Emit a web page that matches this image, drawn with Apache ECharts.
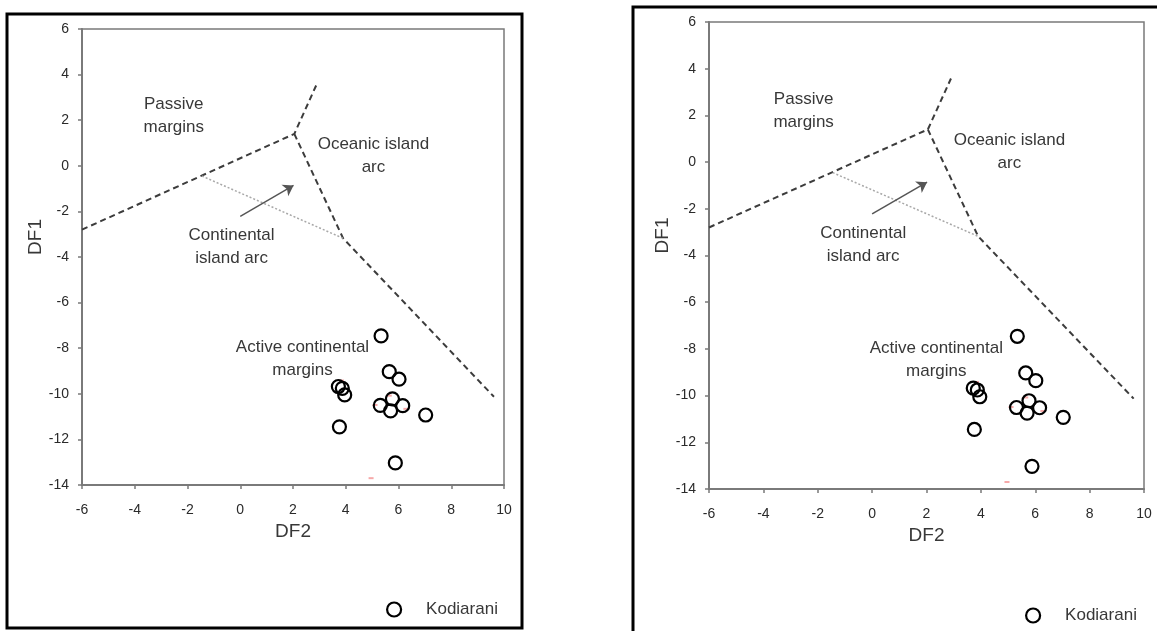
<!DOCTYPE html>
<html>
<head>
<meta charset="utf-8">
<script src="https://cdn.jsdelivr.net/npm/echarts@6/dist/echarts.min.js"></script>
<style>
html,body{margin:0;padding:0;background:#fff;}
#chart{width:1157px;height:631px;}
</style>
</head>
<body>
<div id="chart"></div>
<script>
// ---- data ----
const seriesName = 'Kodiarani';
const df2 = [5.34, 5.65, 6.02, 3.72, 3.87, 3.96, 5.31, 5.77, 5.70, 6.16, 7.03, 3.76, 5.88];
const df1 = [-7.46, -9.03, -9.36, -9.68, -9.76, -10.05, -10.51, -10.22, -10.75, -10.52, -10.93, -11.45, -13.03];
// faint red marks partly hidden behind circles
const redX = [3.84, 5.11, 5.65, 6.28, 4.96];
const redY = [-9.42, -10.49, -10.08, -10.66, -13.7];
// discriminant boundaries
const boundaryUpper = [[-6, -2.8], [2.05, 1.4], [2.9, 3.58]];
const boundaryLower = [[2.05, 1.4], [3.9, -3.18], [9.62, -10.13]];
const boundaryDotted = [[-1.45, -0.45], [3.9, -3.18]];
const arrowFrom = [0.0, -2.22];
const arrowTo = [2.02, -0.86];
// field labels
const fieldNames = ['Passive\nmargins', 'Oceanic island\narc', 'Continental\nisland arc', 'Active continental\nmargins'];
const fieldX = [-2.52, 5.05, -0.33, 2.36];
const fieldY = [2.2, 0.42, -3.54, -8.47];
// axes
const xMin = -6, xMax = 10, xStep = 2;
const yMin = -14, yMax = 6, yStep = 2;

const chart = echarts.init(document.getElementById('chart'));
const textColor = '#383838';
const tickColor = '#2a2a2a';
const axisGray = '#7a7a7a';
const font = 'Liberation Sans, Arial, sans-serif';

const grids = [
  {left: 82, top: 29, width: 422, height: 456},
  {left: 709, top: 22, width: 435, height: 467}
];

function xAxisFor(i) {
  return {
    gridIndex: i, type: 'value', min: xMin, max: xMax, interval: xStep,
    name: 'DF2', nameLocation: 'middle', nameGap: 37,
    nameTextStyle: {fontSize: 19, color: textColor, fontFamily: font},
    axisLine: {show: true, onZero: false, lineStyle: {color: axisGray, width: 2}},
    axisTick: {show: true, length: 4, lineStyle: {color: axisGray, width: 1.5}},
    axisLabel: {fontSize: 14, color: tickColor, margin: 18, fontFamily: font},
    splitLine: {show: false}
  };
}
function yAxisFor(i) {
  return {
    gridIndex: i, type: 'value', min: yMin, max: yMax, interval: yStep,
    name: 'DF1', nameLocation: 'middle', nameGap: 33, nameRotate: 90,
    nameTextStyle: {fontSize: 19, color: textColor, fontFamily: font, padding: [0, 0, 0, 40]},
    axisLine: {show: true, onZero: false, lineStyle: {color: axisGray, width: 2}},
    axisTick: {show: true, length: 4, lineStyle: {color: axisGray, width: 1.5}},
    axisLabel: {fontSize: 14, color: tickColor, margin: 13, fontFamily: font},
    splitLine: {show: false}
  };
}

function panelSeries(i) {
  const pts = df2.map((x, k) => [x, df1[k]]);
  const reds = redX.map((x, k) => [x, redY[k]]);
  const labels = fieldNames.map((n, k) => ({name: n, value: [fieldX[k], fieldY[k]]}));
  const dash = {color: '#3c3c3c', width: 2, type: [6, 4]};
  return [
    {type: 'line', xAxisIndex: i, yAxisIndex: i, data: boundaryUpper, symbol: 'none',
     lineStyle: dash, silent: true, z: 2},
    {type: 'line', xAxisIndex: i, yAxisIndex: i, data: boundaryLower, symbol: 'none',
     lineStyle: dash, silent: true, z: 2},
    {type: 'line', xAxisIndex: i, yAxisIndex: i, data: boundaryDotted, symbol: 'none',
     lineStyle: {color: '#a8a8a8', width: 1.5, type: [2, 2]}, silent: true, z: 2,
     markLine: {
       silent: true, symbol: ['none', 'arrow'], symbolSize: 10,
       label: {show: false},
       lineStyle: {color: '#555555', width: 1.5, type: 'solid'},
       data: [[{coord: arrowFrom}, {coord: arrowTo}]],
       animation: false
     }},
    {type: 'scatter', xAxisIndex: i, yAxisIndex: i, data: labels, symbolSize: 0,
     itemStyle: {color: 'rgba(0,0,0,0)', opacity: 1}, silent: true, z: 3,
     label: {show: true, position: 'inside', formatter: p => p.name, color: textColor,
             fontSize: 17, lineHeight: 23, fontFamily: font, align: 'center', verticalAlign: 'middle'}},
    {type: 'scatter', xAxisIndex: i, yAxisIndex: i, data: reds, symbol: 'rect', symbolSize: [5, 2],
     itemStyle: {color: '#f07070', opacity: 0.6}, silent: true, z: 4},
    {type: 'scatter', name: seriesName, xAxisIndex: i, yAxisIndex: i, data: pts,
     symbol: 'circle', symbolSize: 13,
     itemStyle: {color: 'rgba(255,255,255,0)', borderColor: '#000', borderWidth: 2.2, opacity: 1}, z: 5}
  ];
}

const legendCommon = {
  data: [seriesName], icon: 'circle', itemWidth: 14, itemHeight: 14, selectedMode: false,
  itemStyle: {color: '#fff', borderColor: '#000', borderWidth: 2.2, opacity: 1},
  textStyle: {fontSize: 17, color: textColor, fontFamily: font, padding: [0, 0, 0, 20]}
};

chart.setOption({
  animation: false,
  backgroundColor: '#fff',
  grid: grids.map(g => Object.assign({show: true, borderColor: axisGray, borderWidth: 1.5, backgroundColor: 'transparent'}, g)),
  xAxis: [xAxisFor(0), xAxisFor(1)],
  yAxis: [yAxisFor(0), yAxisFor(1)],
  legend: [
    Object.assign({left: 381, top: 596}, legendCommon),
    Object.assign({left: 1020, top: 602}, legendCommon)
  ],
  graphic: [
    {type: 'rect', shape: {x: 7, y: 14, width: 515, height: 614}, style: {fill: 'none', stroke: '#000', lineWidth: 3}, silent: true},
    {type: 'rect', shape: {x: 633, y: 7, width: 600, height: 700}, style: {fill: 'none', stroke: '#000', lineWidth: 3}, silent: true}
  ],
  series: panelSeries(0).concat(panelSeries(1))
});
</script>
</body>
</html>
